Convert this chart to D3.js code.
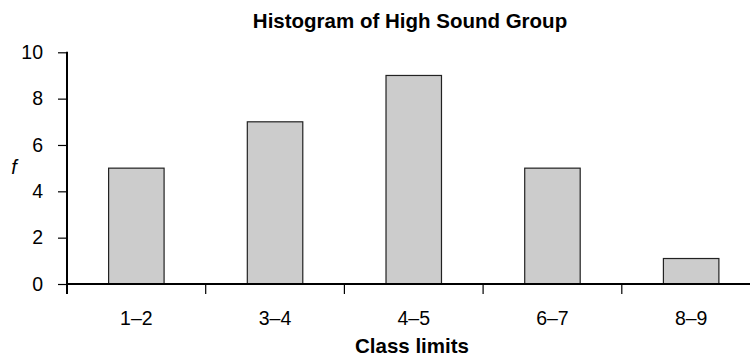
<!DOCTYPE html>
<html>
<head>
<meta charset="utf-8">
<script src="https://cdn.jsdelivr.net/npm/d3@7"></script>
<style>
  html, body { margin: 0; padding: 0; background: #fff; }
  svg { display: block; font-family: "Liberation Sans", Arial, Helvetica, sans-serif; }
</style>
</head>
<body>
<svg id="chart" width="750" height="357"></svg>
<script>
// Class intervals and their frequencies
const classes = ["1–2", "3–4", "4–5", "6–7", "8–9"];
const frequencies = [5, 7, 9, 5, 1.1];
const yTicks = [0, 2, 4, 6, 8, 10];

const svg = d3.select("#chart");

const x = d3.scaleBand()
  .domain(classes)
  .range([67, 760.5])
  .paddingInner(0)
  .paddingOuter(0);

const y = d3.scaleLinear()
  .domain([0, 10])
  .range([284, 52.3]);

// Bars: centred in each class interval, 40% of its width
const barFrac = 0.4;
svg.append("g")
  .selectAll("rect")
  .data(classes.map((c, i) => ({ c, f: frequencies[i] })))
  .join("rect")
  .attr("x", d => x(d.c) + x.bandwidth() * (1 - barFrac) / 2)
  .attr("width", x.bandwidth() * barFrac)
  .attr("y", d => y(d.f))
  .attr("height", d => y(0) - y(d.f))
  .attr("fill", "#cccccc")
  .attr("stroke", "#222")
  .attr("stroke-width", 1.2);

// Y axis
const yAxis = svg.append("g")
  .attr("transform", `translate(${x.range()[0]},0)`)
  .call(d3.axisLeft(y).tickValues(yTicks).tickSize(9).tickPadding(15).tickFormat(d3.format("d")));
yAxis.select(".domain").remove();
yAxis.selectAll(".tick line").attr("stroke", "#000").attr("stroke-width", 1.2);
yAxis.selectAll(".tick text")
  .attr("font-size", 19.5)
  .attr("fill", "#000")
  .attr("font-family", "'Liberation Sans', Arial, Helvetica, sans-serif");
svg.append("line")
  .attr("x1", x.range()[0]).attr("x2", x.range()[0])
  .attr("y1", y(10) - 0.5).attr("y2", y(0) + 10)
  .attr("stroke", "#000").attr("stroke-width", 2);

// X axis: ticks at class boundaries, labels at class centres
const boundaries = classes.map(c => x(c));
svg.append("g")
  .selectAll("line")
  .data(boundaries)
  .join("line")
  .attr("x1", d => d).attr("x2", d => d)
  .attr("y1", y(0)).attr("y2", y(0) + 10)
  .attr("stroke", "#000").attr("stroke-width", 1.2);
svg.append("line")
  .attr("x1", x.range()[0] - 1).attr("x2", 750)
  .attr("y1", y(0)).attr("y2", y(0))
  .attr("stroke", "#000").attr("stroke-width", 2.2);
svg.append("g")
  .selectAll("text")
  .data(classes)
  .join("text")
  .attr("x", d => x(d) + x.bandwidth() / 2)
  .attr("y", 325)
  .attr("text-anchor", "middle")
  .attr("font-size", 19.5)
  .text(d => d);

// Titles
svg.append("text")
  .attr("x", 410).attr("y", 27.5)
  .attr("text-anchor", "middle")
  .attr("font-size", 20.5)
  .attr("font-weight", "bold")
  .text("Histogram of High Sound Group");

svg.append("text")
  .attr("x", 412).attr("y", 353)
  .attr("text-anchor", "middle")
  .attr("font-size", 20.5)
  .attr("font-weight", "bold")
  .text("Class limits");

svg.append("text")
  .attr("x", 14).attr("y", 174)
  .attr("text-anchor", "middle")
  .attr("font-size", 20)
  .attr("font-style", "italic")
  .text("f");
</script>
</body>
</html>
